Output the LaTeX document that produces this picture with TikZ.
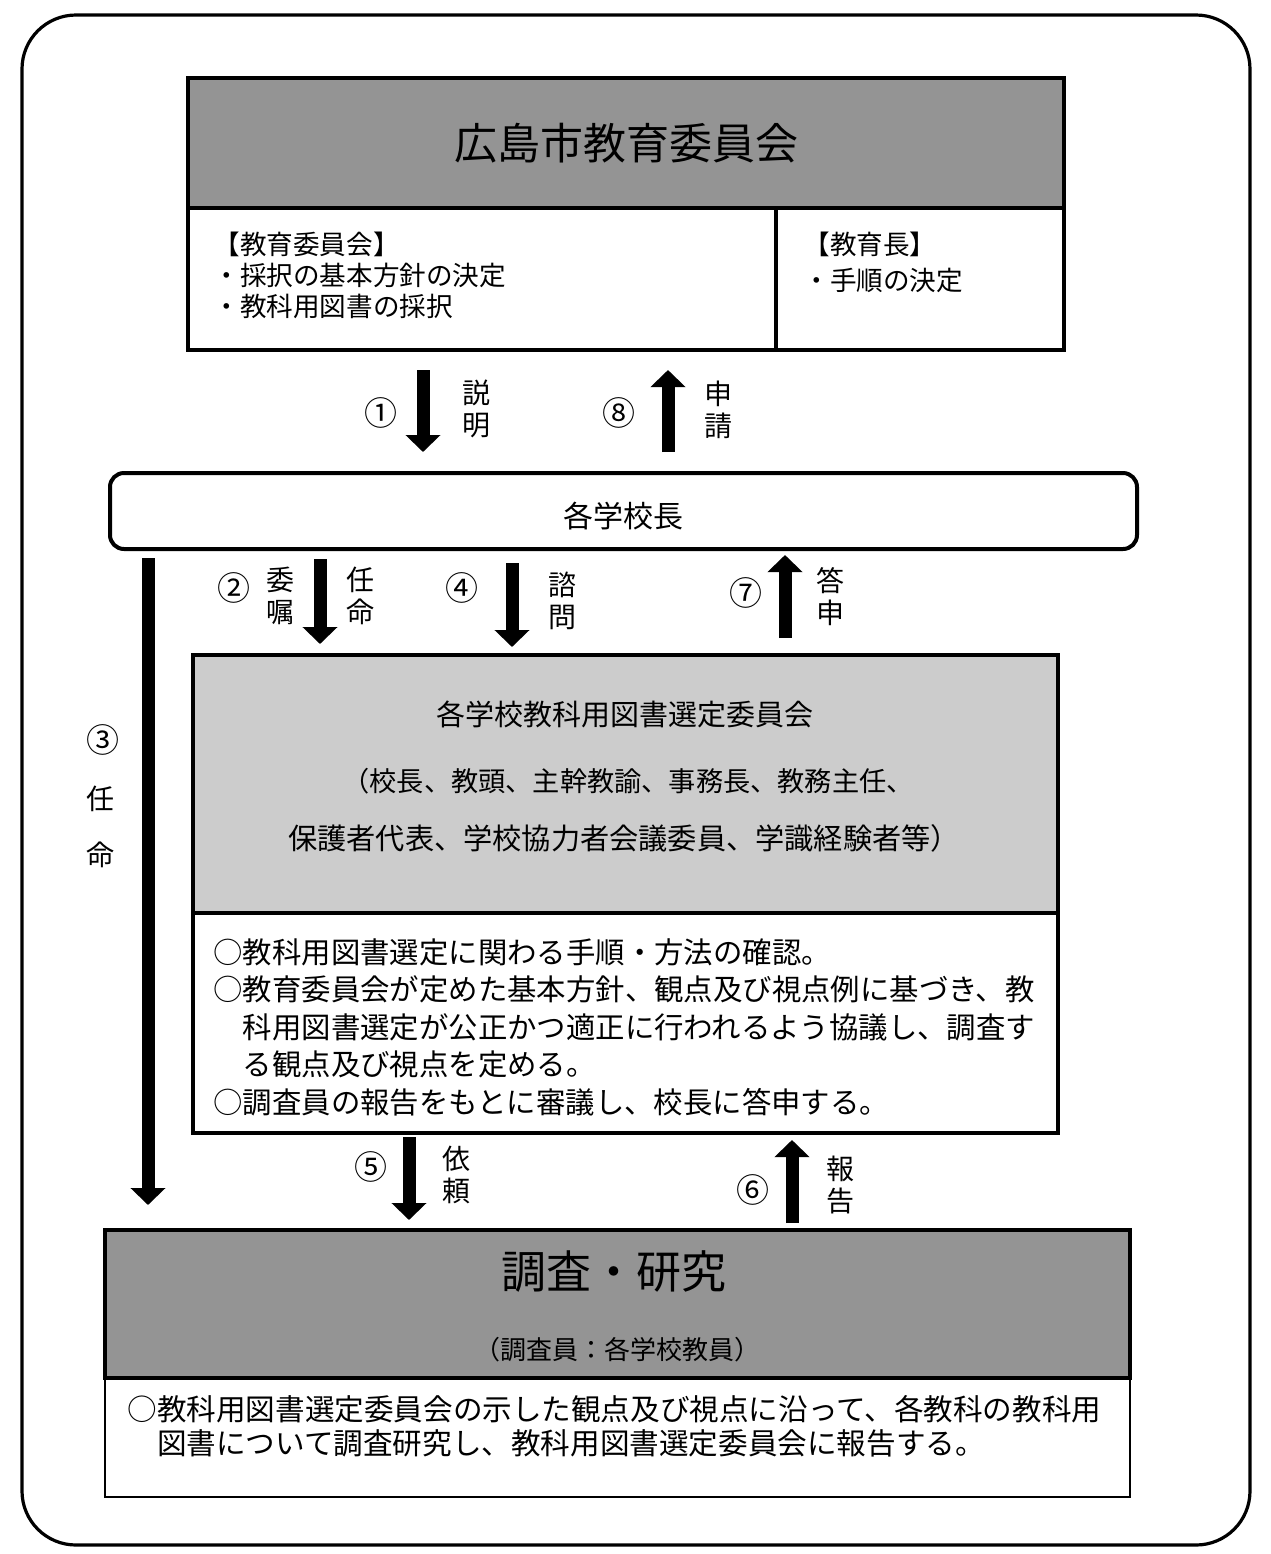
\documentclass[tikz,border=0pt]{standalone}
\usepackage{fontspec}
\setmainfont{Noto Sans CJK JP}
\usepackage{xcolor}
\usetikzlibrary{arrows.meta}
\colorlet{hdrgray}{black!42}
\colorlet{midgray}{black!20}
\newcommand{\setfs}[2]{\fontsize{#1pt}{#2pt}\selectfont}
\tikzset{
  frame/.style={line width=1.6pt},
  bigarr/.style={line width=6.5pt,-{Triangle[width=17pt,length=8.5pt]}},
  vlbl/.style={font=\setfs{14}{16},align=center,inner sep=0pt},
  numlbl/.style={font=\setfs{16.5}{18},inner sep=0pt},
  bodytxt/.style={anchor=north west,align=left,inner sep=0pt}
}
\begin{document}
\begin{tikzpicture}[x=0.5pt,y=-0.5pt]
\useasboundingbox (0,0) rectangle (1270,1554);
% outer frame
\draw[frame,rounded corners=27pt] (22,15) rectangle (1250,1545);

% board of education
\draw[frame,fill=hdrgray] (188,78) rectangle (1064,208);
\draw[frame] (188,208) rectangle (1064,350);
\draw[frame] (776,208) -- (776,350);
\node[font=\setfs{21.5}{24}] (board) at (626,143) {広島市教育委員会};
\node[bodytxt,font=\setfs{13.3}{15.5}] (boardL) at (213,232) {【教育委員会】\\・採択の基本方針の決定\\・教科用図書の採択};
\node[bodytxt,font=\setfs{13.3}{18}] (boardR) at (803,232) {【教育長】\\・手順の決定};

% 1 and 8
\coordinate (a1s) at (423,370); \coordinate (a1e) at (423,452);
\coordinate (a8s) at (668,452); \coordinate (a8e) at (668,370);
\draw[bigarr] (a1s) -- (a1e);
\draw[bigarr] (a8s) -- (a8e);
\node[numlbl] (n1) at (381,413) {①};
\node[vlbl] (t1) at (476,409) {説\\明};
\node[numlbl] (n8) at (619,413) {⑧};
\node[vlbl] (t8) at (718,410) {申\\請};

% principals
\draw[line width=2pt,rounded corners=7pt] (110,473) rectangle (1137,549);
\node[font=\setfs{15}{18}] (principal) at (623,516) {各学校長};

% 3
\coordinate (a3s) at (148,558); \coordinate (a3e) at (148,1205);
\draw[bigarr] (a3s) -- (a3e);
\node[numlbl] (n3) at (103,740) {③};
\node[font=\setfs{14}{28},align=center,inner sep=0pt] (t3) at (100,827) {任\\命};

% 2, 4 and 7
\coordinate (a2s) at (320,559); \coordinate (a2e) at (320,644);
\coordinate (a4s) at (512,563); \coordinate (a4e) at (512,647);
\coordinate (a7s) at (785,638); \coordinate (a7e) at (785,555);
\draw[bigarr] (a2s) -- (a2e);
\draw[bigarr] (a4s) -- (a4e);
\draw[bigarr] (a7s) -- (a7e);
\node[numlbl] (n2) at (234,588) {②};
\node[vlbl] (t2a) at (280,596) {委\\嘱};
\node[vlbl] (t2b) at (360,596) {任\\命};
\node[numlbl] (n4) at (462,588) {④};
\node[vlbl] (t4) at (562,601) {諮\\問};
\node[numlbl] (n7) at (746,593) {⑦};
\node[vlbl] (t7) at (830,597) {答\\申};

% selection committee
\draw[frame,fill=midgray] (193,655) rectangle (1058,913);
\draw[frame] (193,913) rectangle (1058,1133);
\node[font=\setfs{14.5}{17}] (comm) at (625,714) {各学校教科用図書選定委員会};
\node[font=\setfs{13.6}{17}] (commA) at (628,781) {（校長、教頭、主幹教諭、事務長、教務主任、};
\node[font=\setfs{14.6}{17}] (commB) at (624,838) {保護者代表、学校協力者会議委員、学識経験者等）};
\node[bodytxt,font=\setfs{14.7}{18.75}] (commTxt) at (213,938) {○教科用図書選定に関わる手順・方法の確認。\\
○教育委員会が定めた基本方針、観点及び視点例に基づき、教\\
\hspace{1em}科用図書選定が公正かつ適正に行われるよう協議し、調査す\\
\hspace{1em}る観点及び視点を定める。\\
○調査員の報告をもとに審議し、校長に答申する。};

% 5 and 6
\coordinate (a5s) at (409,1137); \coordinate (a5e) at (409,1220);
\coordinate (a6s) at (792,1223); \coordinate (a6e) at (792,1140);
\draw[bigarr] (a5s) -- (a5e);
\draw[bigarr] (a6s) -- (a6e);
\node[numlbl] (n5) at (371,1167) {⑤};
\node[vlbl] (t5) at (456,1175) {依\\頼};
\node[numlbl] (n6) at (753,1190) {⑥};
\node[vlbl] (t6) at (840,1185) {報\\告};

% research
\draw[frame,fill=hdrgray] (105,1230) rectangle (1130,1378);
\draw[line width=1.2pt] (105,1378) rectangle (1130,1497);
\node[font=\setfs{22.5}{26}] (research) at (614,1271) {調査・研究};
\node[font=\setfs{13}{16}] (researchA) at (617,1350) {（調査員：各学校教員）};
\node[bodytxt,font=\setfs{14.8}{17}] (researchTxt) at (127,1395) {○教科用図書選定委員会の示した観点及び視点に沿って、各教科の教科用\\
\hspace{1em}図書について調査研究し、教科用図書選定委員会に報告する。};
\end{tikzpicture}
\end{document}
